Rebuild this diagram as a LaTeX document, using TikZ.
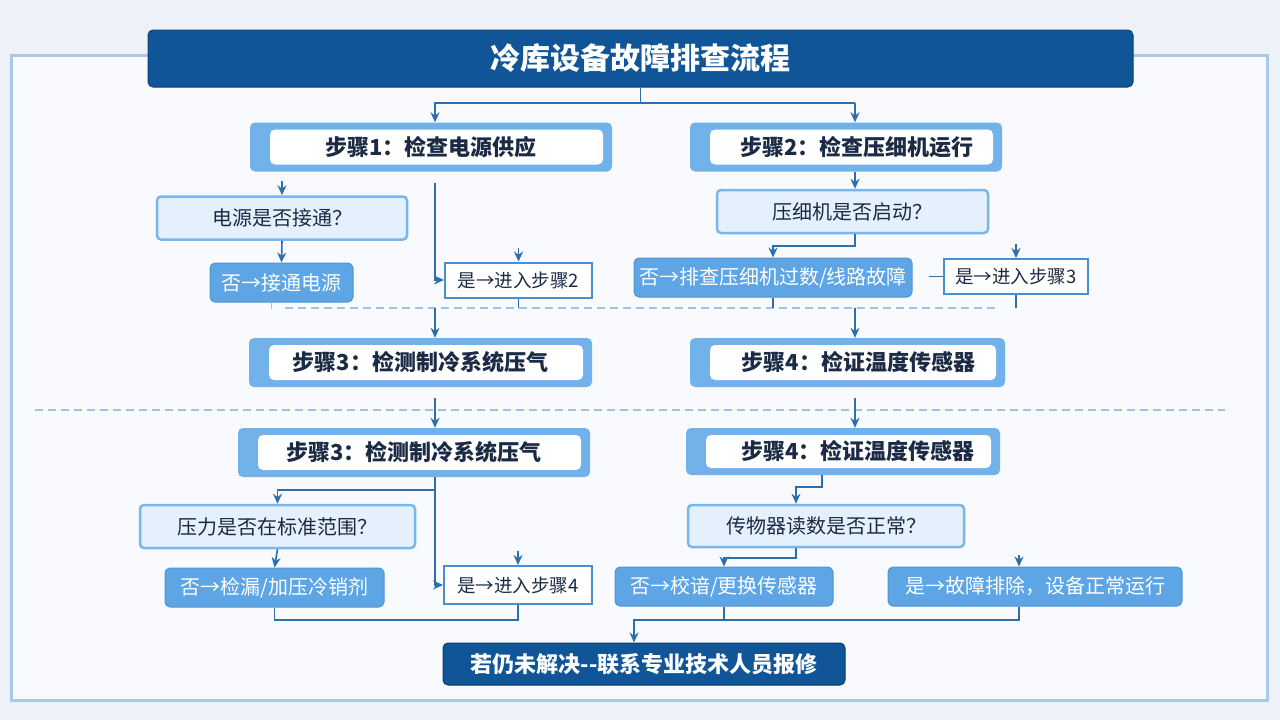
\documentclass[tikz,border=0pt]{standalone}
\usepackage{fontspec}
\setmainfont{Noto Sans CJK SC}
\usetikzlibrary{arrows.meta}

\definecolor{bgcol}{HTML}{EDF2F8}
\definecolor{framefill}{HTML}{F8FAFD}
\definecolor{framecol}{HTML}{A9C9EA}
\definecolor{titleblue}{HTML}{0F5597}
\definecolor{stepblue}{HTML}{72B2EA}
\definecolor{navy}{HTML}{1B2B45}
\definecolor{qfill}{HTML}{E4F0FB}
\definecolor{qdraw}{HTML}{7AB6EA}
\definecolor{nofill}{HTML}{5DA5E5}
\definecolor{yesdraw}{HTML}{4A8FD0}
\definecolor{linecol}{HTML}{2D6FAD}
\definecolor{dashcol}{HTML}{9CC3E6}

\begin{document}
\begin{tikzpicture}[x=1pt,y=-1pt,
  every node/.style={inner sep=0pt},
  titlebox/.style={fill=titleblue, draw=titleblue!80!black, line width=1pt, rounded corners=5pt,
    text=white, font=\bfseries\fontsize{30pt}{32pt}\selectfont},
  stepbox/.style={fill=stepblue, rounded corners=5pt, text=navy, minimum height=49pt,
    font=\bfseries\fontsize{22pt}{24pt}\selectfont,
    path picture={\fill[white] ([xshift=20pt,yshift=7pt]path picture bounding box.south west)
      rectangle ([xshift=-9pt,yshift=-7pt]path picture bounding box.north east);}},
  qbox/.style={fill=qfill, draw=qdraw, line width=2.5pt, rounded corners=4pt, text=navy,
    minimum height=43pt, font=\fontsize{20pt}{22pt}\selectfont},
  nobox/.style={fill=nofill, draw=nofill!90!black, line width=1pt, rounded corners=5pt,
    text=white, minimum height=39pt, font=\fontsize{20pt}{22pt}\selectfont},
  yesbox/.style={fill=white, draw=yesdraw, line width=2pt, text=navy,
    minimum height=35pt, font=\fontsize{18.5pt}{20pt}\selectfont},
  fixbox/.style={fill=titleblue, draw=titleblue!70!black, line width=1pt, rounded corners=5pt,
    text=white, font=\bfseries\fontsize{22pt}{24pt}\selectfont},
  flow/.style={draw=linecol, line width=1.6pt, -{Stealth[length=10pt,width=9pt]}},
  link/.style={draw=linecol, line width=1.6pt},
  dashline/.style={draw=dashcol, line width=1.6pt, dash pattern=on 8pt off 5pt}]
\useasboundingbox (0,0) rectangle (1280,720);
\fill[bgcol] (0,0) rectangle (1280,720);
\draw[framecol, line width=3pt, fill=framefill] (11,55) rectangle (1267,700);

% title and steps
\node[titlebox, minimum width=985pt, minimum height=57pt] (title) at (640.5,58.5) {冷库设备故障排查流程};
\node[stepbox, minimum width=362pt] (s1) at (431,147) {步骤1：检查电源供应};
\node[stepbox, minimum width=312pt, execute at begin node={\hspace*{22pt}}] (s2) at (846,147) {步骤2：检查压细机运行};
\node[stepbox, minimum width=343pt] (s3) at (420.5,362.5) {步骤3：检测制冷系统压气};
\node[stepbox, minimum width=315pt, execute at begin node={\hspace*{22pt}}] (s4) at (847.5,362.5) {步骤4：检证温度传感器};
\node[stepbox, minimum width=352pt] (s3b) at (414,452.5) {步骤3：检测制冷系统压气};
\node[stepbox, minimum width=314pt, minimum height=47pt, execute at begin node={\hspace*{30pt}}] (s4b) at (843,451.5) {步骤4：检证温度传感器};

% questions
\node[qbox, minimum width=250pt] (q1) at (282,218) {电源是否接通？};
\node[qbox, minimum width=271pt] (q2) at (852.5,211.5) {压细机是否启动？};
\node[qbox, minimum width=275pt] (q3) at (277.5,526.5) {压力是否在标准范围？};
\node[qbox, minimum width=276pt, minimum height=42pt] (q4) at (826,526) {传物器读数是否正常？};

% answers
\node[nobox, minimum width=143pt] (n1) at (281.5,282.5) {否→接通电源};
\node[yesbox, minimum width=147pt] (y1) at (518.5,280) {是→进入步骤2};
\node[nobox, minimum width=278pt] (n2) at (773,277.5) {否→排查压细机过数/线路故障};
\node[yesbox, minimum width=144pt] (y2) at (1016,276.5) {是→进入步骤3};
\node[nobox, minimum width=219pt] (n3) at (274.5,587.5) {否→检漏/加压冷销剂};
\node[yesbox, minimum width=148pt, minimum height=38pt] (y3) at (518,585) {是→进入步骤4};
\node[nobox, minimum width=218pt] (n4) at (724,586.5) {否→校谙/更换传感器};
\node[nobox, minimum width=294pt] (y4) at (1035,586.5) {是→故障排除，设备正常运行};

\node[fixbox, minimum width=402pt, minimum height=42pt] (fix) at (644,664) {若仍未解决-{}-联系专业技术人员报修};

\coordinate (c1) at (435,103);
\coordinate (c2) at (855,103);
\coordinate (m1) at (435,308);
\coordinate (m2) at (855,308);
\coordinate (b1) at (634,620);

% top split
\draw[link] (title.south) -- (title.south |- c1);
\draw[flow] (c2) -- (c1) -- (c1 |- s1.north);
\draw[flow] (c2) -- (c2 |- s2.north);

% step 1 branch
\draw[flow] ([yshift=14pt]q1.north) -- (q1.north);
\draw[flow] (q1.south) -- (n1.north);
\draw[flow] ([yshift=-11pt]s1.south -| c1) |- (y1.west);
\draw[flow] ([yshift=14pt]y1.north) -- (y1.north);

% step 2 branch
\draw[flow] (s2.south -| c2) -- (q2.north -| c2);
\draw[flow] (q2.south -| c2) -- ++(0,12) -| (n2.north);
\draw[flow] ([yshift=14pt]y2.north) -- (y2.north);
\draw[link] ([xshift=-14pt]y2.west) -- (y2.west);

% merge to steps 3 and 4
\draw[dashline] (285,308) -- (995,308);
\draw[dashline] ([xshift=-10pt]n1.south) -- ++(0,6);
\draw[link] (y1.south) -- (y1.south |- m1);
\draw[link] (n2.south) -- (n2.south |- m2);
\draw[link] (y2.south) -- (y2.south |- m2);
\draw[flow] (m1) -- (m1 |- s3.north);
\draw[flow, line width=2.2pt] (m2) -- (m2 |- s4.north);

\draw[dashline] (35,410) -- (1225,410);
\draw[flow] (s3.south -| c1) ++(0,11) -- (s3b.north -| c1);
\draw[flow, line width=2.2pt] (s4.south -| c2) ++(0,11) -- (s4b.north -| c2);

% step 3 branch
\draw[flow] (s3b.south -| c1) -- ++(0,13) -| (q3.north);
\draw[flow] (s3b.south -| c1) |- (y3.west);
\draw[flow] ([yshift=14pt]y3.north) -- (y3.north);
\draw[flow] (q3.south) -- (n3.north);
\draw[link] (n3.south) -- (n3.south |- b1) -| (y3.south);

% step 4 branch
\draw[flow] ([xshift=-21pt]s4b.south) -- ++(0,12) -| ([xshift=-30pt]q4.north);
\draw[flow] ([xshift=-30pt]q4.south) -- ++(0,10) -| (n4.north);
\draw[flow] ([yshift=12pt,xshift=-16pt]y4.north) -- ([xshift=-16pt]y4.north);
\draw[link] (n4.south) -- (n4.south |- b1);
\draw[flow] ([xshift=-16pt]y4.south) |- (b1) -- (b1 |- fix.north);
\end{tikzpicture}
\end{document}
